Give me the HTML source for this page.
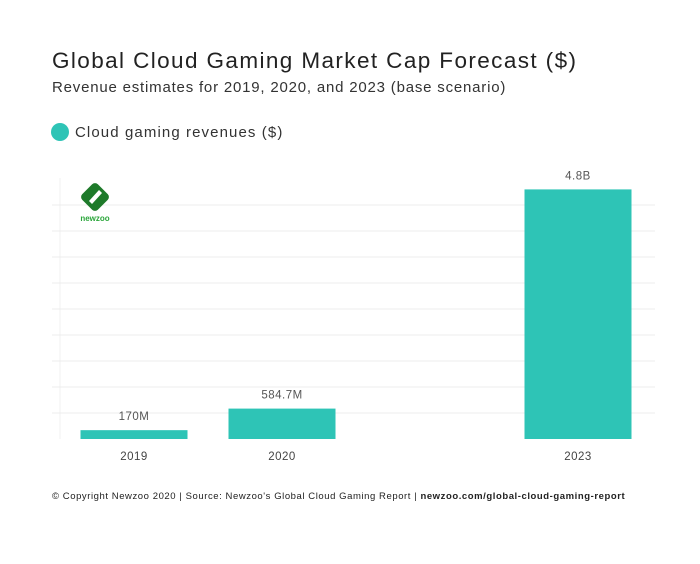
<!DOCTYPE html>
<html><head><meta charset="utf-8"><style>
body{margin:0;background:#fff;font-family:"Liberation Sans",sans-serif;}
#wrap{position:relative;width:700px;height:564px;overflow:hidden;background:#fff}
.t{position:absolute;white-space:nowrap}
</style></head><body>
<div id="wrap">
<div class="t" style="left:52px;top:48px;font-size:22.5px;color:#222;letter-spacing:1.4px">Global Cloud Gaming Market Cap Forecast ($)</div>
<div class="t" style="left:52px;top:79px;font-size:15px;color:#333;letter-spacing:0.8px">Revenue estimates for 2019, 2020, and 2023 (base scenario)</div>
<div class="t" style="left:51px;top:123px;font-size:15px;color:#333;letter-spacing:1.1px">
<span style="display:inline-block;width:18px;height:18px;border-radius:50%;background:#2ec4b6;vertical-align:-4px;margin-right:6px"></span>Cloud gaming revenues ($)</div>
<svg id="chart" width="700" height="564" style="position:absolute;left:0;top:0"></svg>
<div class="t" style="left:52px;top:491px;font-size:9.5px;color:#222;letter-spacing:0.57px">© Copyright Newzoo 2020 | Source: Newzoo's Global Cloud Gaming Report | <b>newzoo.com/global-cloud-gaming-report</b></div>
</div>
<script>
const categories = ["2019","2020","","2023"];
const values = [170, 584.7, null, 4800];
const valueLabels = ["170M","584.7M","","4.8B"];
const gridTicks = [0,500,1000,1500,2000,2500,3000,3500,4000,4500];
const NS="http://www.w3.org/2000/svg";
const svg=document.getElementById('chart');
const baseY=439, pxPerUnit=26/500;
const y=v=>baseY-v*pxPerUnit;
const slotW=148, x0=60;
const xc=i=>x0+slotW*i+74;
const barW=107;
function mk(tag,attrs){const e=document.createElementNS(NS,tag);for(const k in attrs)e.setAttribute(k,attrs[k]);svg.appendChild(e);return e;}
const vl=mk('line',{x1:60,x2:60,y1:178,y2:439,stroke:'#f0f0f0','stroke-width':1});


gridTicks.forEach(t=>{
  if(t===0)return;
  const g=mk('line',{x1:52,x2:655,y1:y(t),y2:y(t),stroke:'#ececec','stroke-width':1});
  
  
});
const lg=mk('g',{transform:'translate(95,197)'});


const d1=document.createElementNS(NS,'rect');
d1.setAttribute('x',-11);d1.setAttribute('y',-11);d1.setAttribute('width',22);d1.setAttribute('height',22);d1.setAttribute('rx',4);d1.setAttribute('fill','#1e7a2a');d1.setAttribute('transform','rotate(45)');lg.appendChild(d1);
const d2=document.createElementNS(NS,'path');
d2.setAttribute('d','M-6,4 L4,-7 L7,-4 L-3,7 Z');d2.setAttribute('fill','#fff');lg.appendChild(d2);
const lt=mk('text',{x:95,y:221,'text-anchor':'middle','font-size':8,'font-weight':'bold',fill:'#2aa63a','font-family':'Liberation Sans, sans-serif'});
lt.textContent='newzoo';


categories.forEach((c,i)=>{
  if(values[i]==null)return;
  const b=mk('rect',{x:xc(i)-barW/2,y:y(values[i]),width:barW,height:baseY-y(values[i]),fill:'#2ec4b6'});
  
  
  const vt=mk('text',{x:xc(i),y:y(values[i])-10,'text-anchor':'middle','font-size':11.5,fill:'#555','font-family':'Liberation Sans, sans-serif','letter-spacing':0.5});
  vt.textContent=valueLabels[i];
  
  
  const xt=mk('text',{x:xc(i),y:460,'text-anchor':'middle','font-size':11.5,fill:'#444','font-family':'Liberation Sans, sans-serif','letter-spacing':0.5});
  xt.textContent=c;
  
  
});
</script>
</body></html>
